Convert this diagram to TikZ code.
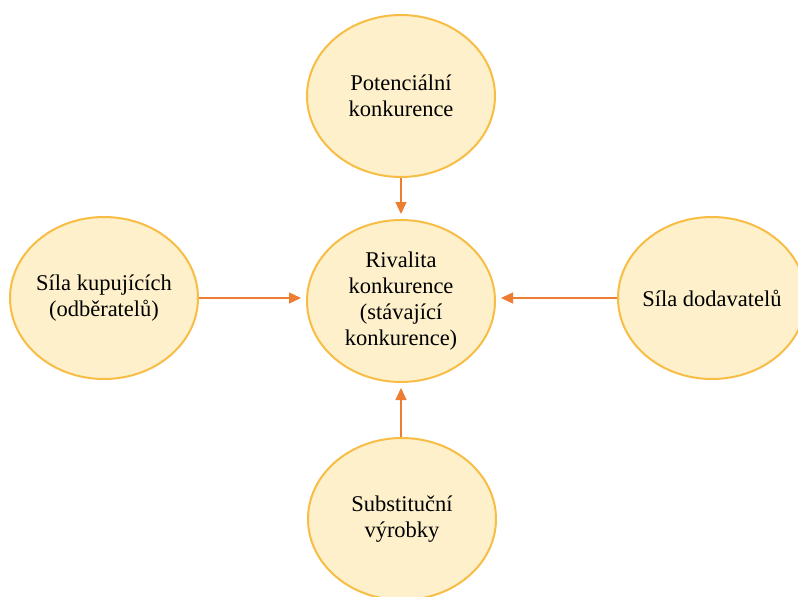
\documentclass[tikz,border=0pt]{standalone}
\usepackage{fontspec}
\setmainfont{Liberation Serif}
\usetikzlibrary{shapes.geometric,arrows.meta}
\definecolor{ovfill}{HTML}{FDF0CB}
\definecolor{ovline}{HTML}{F7BD45}
\definecolor{arr}{HTML}{ED7D31}
\begin{document}
\begin{tikzpicture}[x=1pt,y=-1pt,
  oval/.style={ellipse,draw=ovline,fill=ovfill,line width=2pt,minimum width=188pt,minimum height=162pt,inner sep=0pt},
  txt/.style={align=center,inner sep=0pt,font=\fontsize{22.5}{26}\selectfont},
  link/.style={draw=arr,line width=1.4pt,-{Triangle[length=12pt,width=11pt]},shorten >=5pt}]
\useasboundingbox (0,0) rectangle (798,597);
\node[oval,label={[txt]center:Rivalita\\konkurence\\(stávající\\konkurence)}] (c) at (401,301) {};
\node[oval,label={[txt]center:Potenciální\\konkurence}] (t) at (401,96) {};
\node[oval,label={[txt]center:Síla kupujících\\(odběratelů)}] (l) at (104,298) {};
\node[oval,label={[txt]center:Síla dodavatelů}] (r) at (712,298) {};
\node[oval,label={[txt]center:Substituční\\výrobky}] (b) at (402,519) {};
\draw[link] (t.south) -- (t.south |- c.north);
\draw[link] (l.east) -- (l.east -| c.west);
\draw[link] (r.west) -- (r.west -| c.east);
\draw[link] (b.north -| t.south) -- (t.south |- c.south);
\end{tikzpicture}
\end{document}
